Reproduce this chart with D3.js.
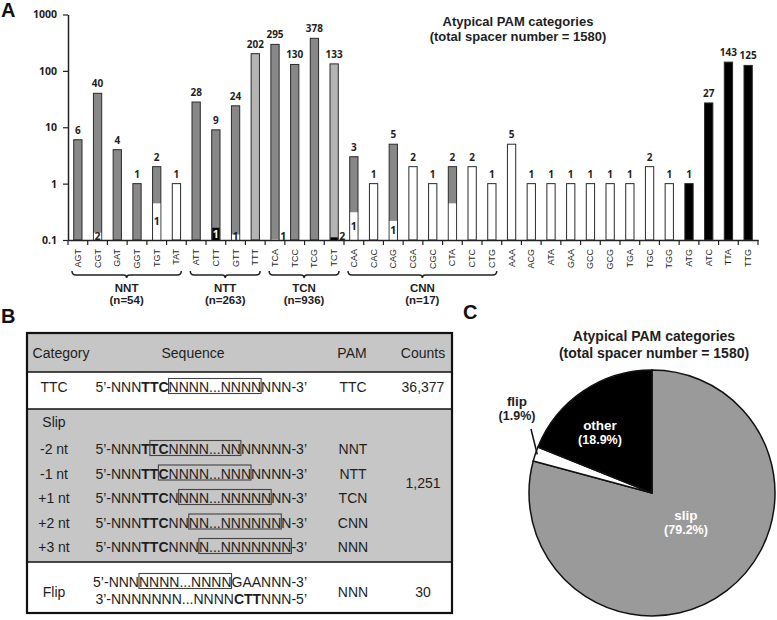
<!DOCTYPE html>
<html><head><meta charset="utf-8">
<script src="https://cdn.jsdelivr.net/npm/d3@7"></script>
<style>body{margin:0;background:#fff} svg{display:block}</style>
</head><body><svg id="c" width="777" height="620"></svg>
<script>
// ---------- Panel A data ----------
const categories = ["AGT","CGT","GAT","GGT","TGT","TAT","ATT","CTT","GTT","TTT","TCA","TCC","TCG","TCT","CAA","CAC","CAG","CGA","CGC","CTA","CTC","CTG","AAA","ACG","ATA","GAA","GCC","GCG","TGA","TGC","TGG","ATG","ATC","TTA","TTG"];
const counts = [6,40,4,1,2,1,28,9,24,202,295,130,378,133,3,1,5,2,1,2,2,1,5,1,1,1,1,1,1,2,1,1,27,143,125];
const barKinds = ["d","d","d","d","d","w","d","d","d","l","d","d","d","l","d","w","d","w","w","d","w","w","w","w","w","w","w","w","w","w","w","k","k","k","k"];
const subCats = ["CGT","TGT","CTT","GTT","TCA","TCT","CAA","CAG","CTA"];
const subCounts = [2,1,1,1,1,2,1,1,1];
const subKinds = ["w","w","k","w","w","k","w","w","w"];
const subLabelShown = [true,true,true,true,true,true,true,true,false];
const yTicks = [0.1,1,10,100,1000];
const yTickLabels = ["0.1","1","10","100","1000"];
const groupNames = ["NNT","NTT","TCN","CNN"];
const groupN = [54,263,936,17];
const groupFirst = ["AGT","ATT","TCA","CAA"];
const groupLast = ["TAT","TTT","TCT","CTG"];
const titleLines = ["Atypical PAM categories","(total spacer number = 1580)"];

// ---------- Panel B data ----------
const tableHeaders = ["Category","Sequence","PAM","Counts"];
const ttcSeq = [["5’-NNN",0,0],["TTC",1,0],["NNNN...NNNN",0,1],["NNN-3’",0,0]];
const slipCats = ["-2 nt","-1 nt","+1 nt","+2 nt","+3 nt"];
const slipPams = ["NNT","NTT","TCN","CNN","NNN"];
const slipSeqs = [
  [["5’-NNN",0,0],["T",1,0],["TC",1,1],["NNNN...NN",0,1],["NNNNN-3’",0,0]],
  [["5’-NNN",0,0],["TT",1,0],["C",1,1],["NNNN...NNN",0,1],["NNNN-3’",0,0]],
  [["5’-NNN",0,0],["TTC",1,0],["N",0,0],["NNN...NNNNN",0,1],["NN-3’",0,0]],
  [["5’-NNN",0,0],["TTC",1,0],["NN",0,0],["NN...NNNNNN",0,1],["N-3’",0,0]],
  [["5’-NNN",0,0],["TTC",1,0],["NNN",0,0],["N...NNNNNNN",0,1],["-3’",0,0]]
];
const flipSeqs = [
  [["5’-NNN",0,0],["NNNN...NNNN",0,1],["GAANNN-3’",0,0]],
  [["3’-NNNNNNN...NNNN",0,0],["CTT",1,0],["NNN-5’",0,0]]
];
const rowCounts = ["36,377","1,251","30"];

// ---------- Panel C data ----------
const pieNames = ["slip","flip","other"];
const piePct = [79.2,1.9,18.9];
const pieColors = ["#9a9a9a","#ffffff","#000000"];

// ---------- drawing ----------
const FONT = "'Liberation Sans', Arial, Helvetica, sans-serif";
const NUMF = "'Open Sans', 'DejaVu Sans', sans-serif";
const TXT = "#1e1e1e";
const kindColor = {d:"#888888", l:"#b4b4b4", w:"#ffffff", k:"#000000"};
const svg = d3.select("#c").attr("font-family", FONT);

[["A",1,17],["B",1,323],["C",463,319]].forEach(p =>
  svg.append("text").attr("x",p[1]).attr("y",p[2]).attr("font-size",20).attr("font-weight","bold").attr("fill","#111").text(p[0]));

// ===== Panel A =====
const x = d3.scaleBand().domain(categories).range([68, 758]);
const y = d3.scaleLog().domain([0.1, 1000]).range([240, 14.5]);
const bw = x.bandwidth(), barW = bw * 0.42;
const A = svg.append("g");
const y0 = y(0.1);

const bars = categories.map((c,i) => ({c, v:counts[i], kind:barKinds[i]}));
A.selectAll("rect.bar").data(bars).join("rect").attr("class","bar")
  .attr("x", d => x(d.c) + (bw - barW)/2).attr("width", barW)
  .attr("y", d => y(d.v)).attr("height", d => y0 - y(d.v))
  .attr("fill", d => kindColor[d.kind]).attr("stroke","#2a2a2a").attr("stroke-width",1);

const subs = subCats.map((c,i) => {
  const v = counts[categories.indexOf(c)];
  const h = (y0 - y(v)) * subCounts[i] / v;
  return {c, v, n:subCounts[i], kind:subKinds[i], show:subLabelShown[i], h};
});
A.selectAll("rect.sub").data(subs).join("rect").attr("class","sub")
  .attr("x", d => x(d.c) + (bw - barW)/2 + 0.5).attr("width", barW - 1)
  .attr("y", d => y0 - d.h).attr("height", d => d.h)
  .attr("fill", d => kindColor[d.kind]);
A.selectAll("text.sub").data(subs.filter(d => d.show)).join("text").attr("class","sub")
  .attr("font-family", NUMF).attr("font-weight","bold").attr("font-size",10.5)
  .attr("x", d => d.h < 4 ? x(d.c) + bw/2 + barW/2 + 1 : x(d.c) + bw/2)
  .attr("text-anchor", d => d.h < 4 ? "start" : "middle")
  .attr("y", d => d.h < 4 ? y0 - 0.5 : Math.min(y0 - d.h/2, 236) + 3.8)
  .attr("fill", d => (d.kind === "k" && d.h >= 4) ? "#fff" : TXT)
  .text(d => d.n);

A.selectAll("text.val").data(bars).join("text").attr("class","val")
  .attr("font-family", NUMF).attr("font-weight","bold").attr("font-size",10).attr("fill",TXT)
  .attr("text-anchor","middle")
  .attr("x", d => x(d.c) + bw/2).attr("y", d => y(d.v) - 6).text(d => d.v);

const yAxis = A.append("g").attr("transform","translate(68,0)")
  .call(d3.axisLeft(y).tickValues(yTicks).tickFormat((d,i) => yTickLabels[i]).tickSize(5).tickPadding(6).tickSizeOuter(0));
yAxis.select(".domain").attr("stroke","#222").attr("stroke-width",1.5);
yAxis.selectAll(".tick line").attr("stroke","#222").attr("stroke-width",1.2);
yAxis.selectAll(".tick text").attr("font-family",NUMF).attr("font-weight","bold").attr("font-size",10.5).attr("fill",TXT);

const xAxis = A.append("g").attr("transform",`translate(0,${y0})`)
  .call(d3.axisBottom(x).tickSize(0).tickSizeOuter(0).tickPadding(0));
xAxis.select(".domain").attr("stroke","#222").attr("stroke-width",1.5);
xAxis.selectAll(".tick text")
  .attr("transform","translate(3,9) rotate(-90)").attr("text-anchor","end").attr("dy",0)
  .attr("font-size",9).attr("fill",TXT).attr("font-family",FONT);
const edges = categories.map(c => x(c)).concat([x.range()[1]]);
A.selectAll("line.edge").data(edges).join("line").attr("class","edge")
  .attr("x1", d => d).attr("x2", d => d).attr("y1", y0).attr("y2", y0 + 5)
  .attr("stroke","#222").attr("stroke-width",1.2);

groupNames.forEach((g,i) => {
  const x0 = x(groupFirst[i]) + 4, x1 = x(groupLast[i]) + bw - 5, xm = (x0 + x1)/2;
  const yt = 271, yl = 275;
  A.append("path")
    .attr("d", `M${x0},${yt} Q${x0},${yl} ${x0+4},${yl} L${xm-3},${yl} Q${xm},${yl} ${xm},${yl+3} Q${xm},${yl} ${xm+3},${yl} L${x1-4},${yl} Q${x1},${yl} ${x1},${yt}`)
    .attr("fill","none").attr("stroke","#222").attr("stroke-width",1.5);
  A.append("text").attr("x",xm).attr("y",292).attr("text-anchor","middle")
    .attr("font-size",11.5).attr("font-weight","bold").attr("fill",TXT).text(g);
  A.append("text").attr("x",xm).attr("y",304).attr("text-anchor","middle")
    .attr("font-size",11.5).attr("font-weight","bold").attr("fill",TXT).text(`(n=${groupN[i]})`);
});

titleLines.forEach((t,i) => A.append("text").attr("x",518).attr("y",26 + i*15).attr("text-anchor","middle")
  .attr("font-size",13).attr("font-weight","bold").attr("fill",TXT).text(t));

// ===== Panel B =====
const B = svg.append("g").attr("font-size",14).attr("fill",TXT);
const TL = 27, TR = 452, rowsY = [333, 372, 409, 562, 613];
const rowFill = ["#c6c6c6","#ffffff","#c6c6c6","#ffffff"];
rowFill.forEach((f,i) => B.append("rect").attr("x",TL).attr("y",rowsY[i]).attr("width",TR-TL).attr("height",rowsY[i+1]-rowsY[i]).attr("fill",f));
rowsY.slice(1,4).forEach(yy => B.append("line").attr("x1",TL).attr("x2",TR).attr("y1",yy).attr("y2",yy).attr("stroke","#111").attr("stroke-width",1.5));
B.append("rect").attr("x",TL).attr("y",rowsY[0]).attr("width",TR-TL).attr("height",rowsY[4]-rowsY[0]).attr("fill","none").attr("stroke","#111").attr("stroke-width",2.2);

const colX = [61, 193, 352, 423];
tableHeaders.forEach((h,i) => B.append("text").attr("x",colX[i]).attr("y",358).attr("text-anchor","middle").text(h));

const CATX = 54, PAMX = 353, CNTX = 423, SEQR = 307;
function drawSeq(segs, baseline) {
  const g = B.append("g");
  const t = g.append("text").attr("x", 0).attr("y", baseline);
  const spans = segs.map(s => t.append("tspan").attr("font-weight", s[1] ? "bold" : "normal").text(s[0]));
  const w = spans.map(s => s.node().getComputedTextLength());
  const start = SEQR - d3.sum(w);
  t.attr("x", start);
  let xx = start, bs = null, be = null;
  segs.forEach((s,i) => { if (s[2]) { if (bs === null) bs = xx; be = xx + w[i]; } xx += w[i]; });
  if (bs !== null) g.append("rect").attr("x", bs).attr("y", baseline - 13.5).attr("width", be - bs).attr("height", 15)
    .attr("fill","none").attr("stroke","#444").attr("stroke-width",1.1);
}
function cell(t, xx, yy) { B.append("text").attr("x",xx).attr("y",yy).attr("text-anchor","middle").text(t); }

cell("TTC", CATX, 392); drawSeq(ttcSeq, 392); cell("TTC", PAMX, 392); cell(rowCounts[0], CNTX, 392);
cell("Slip", CATX, 427);
const slipBase = [454, 478.5, 503, 527.5, 552];
slipCats.forEach((c,i) => { cell(c, CATX, slipBase[i]); drawSeq(slipSeqs[i], slipBase[i]); cell(slipPams[i], PAMX, slipBase[i]); });
cell(rowCounts[1], CNTX, 488);
cell("Flip", CATX, 597); drawSeq(flipSeqs[0], 587); drawSeq(flipSeqs[1], 604);
cell("NNN", PAMX, 597); cell(rowCounts[2], CNTX, 597);

// ===== Panel C =====
const C = svg.append("g");
const cx = 652, cy = 493, R = 123;
titleLines.forEach((t,i) => C.append("text").attr("x",654).attr("y",341 + i*16.5).attr("text-anchor","middle")
  .attr("font-size",14).attr("font-weight","bold").attr("fill",TXT).text(t));
const pieData = d3.pie().sort(null).value(d => d.p)(pieNames.map((n,i) => ({n, p:piePct[i], col:pieColors[i]})));
const arc = d3.arc().innerRadius(0).outerRadius(R);
const P = C.append("g").attr("transform",`translate(${cx},${cy})`);
P.selectAll("path").data(pieData).join("path").attr("d", arc)
  .attr("fill", d => d.data.col).attr("stroke","#111").attr("stroke-width",1.5);

const lab = (lines, dx, dy, col) => lines.forEach((t,i) =>
  P.append("text").attr("x",dx).attr("y",dy + i*14).attr("text-anchor","middle").attr("font-size",i ? 12.5 : 13.5)
    .attr("font-weight","bold").attr("fill",col).text(t));
lab(["slip", `(${piePct[0]}%)`], 34, 27, "#fff");
lab(["other", `(${piePct[2]}%)`], -52, -63, "#fff");
lab(["flip", `(${piePct[1]}%)`], -135, -87, TXT);
const flipMid = (pieData[1].startAngle + pieData[1].endAngle)/2;
P.append("line").attr("x1",-121).attr("y1",-64)
  .attr("x2", Math.sin(flipMid) * (R - 2)).attr("y2", -Math.cos(flipMid) * (R - 2))
  .attr("stroke","#111").attr("stroke-width",1.5);
</script></body></html>
